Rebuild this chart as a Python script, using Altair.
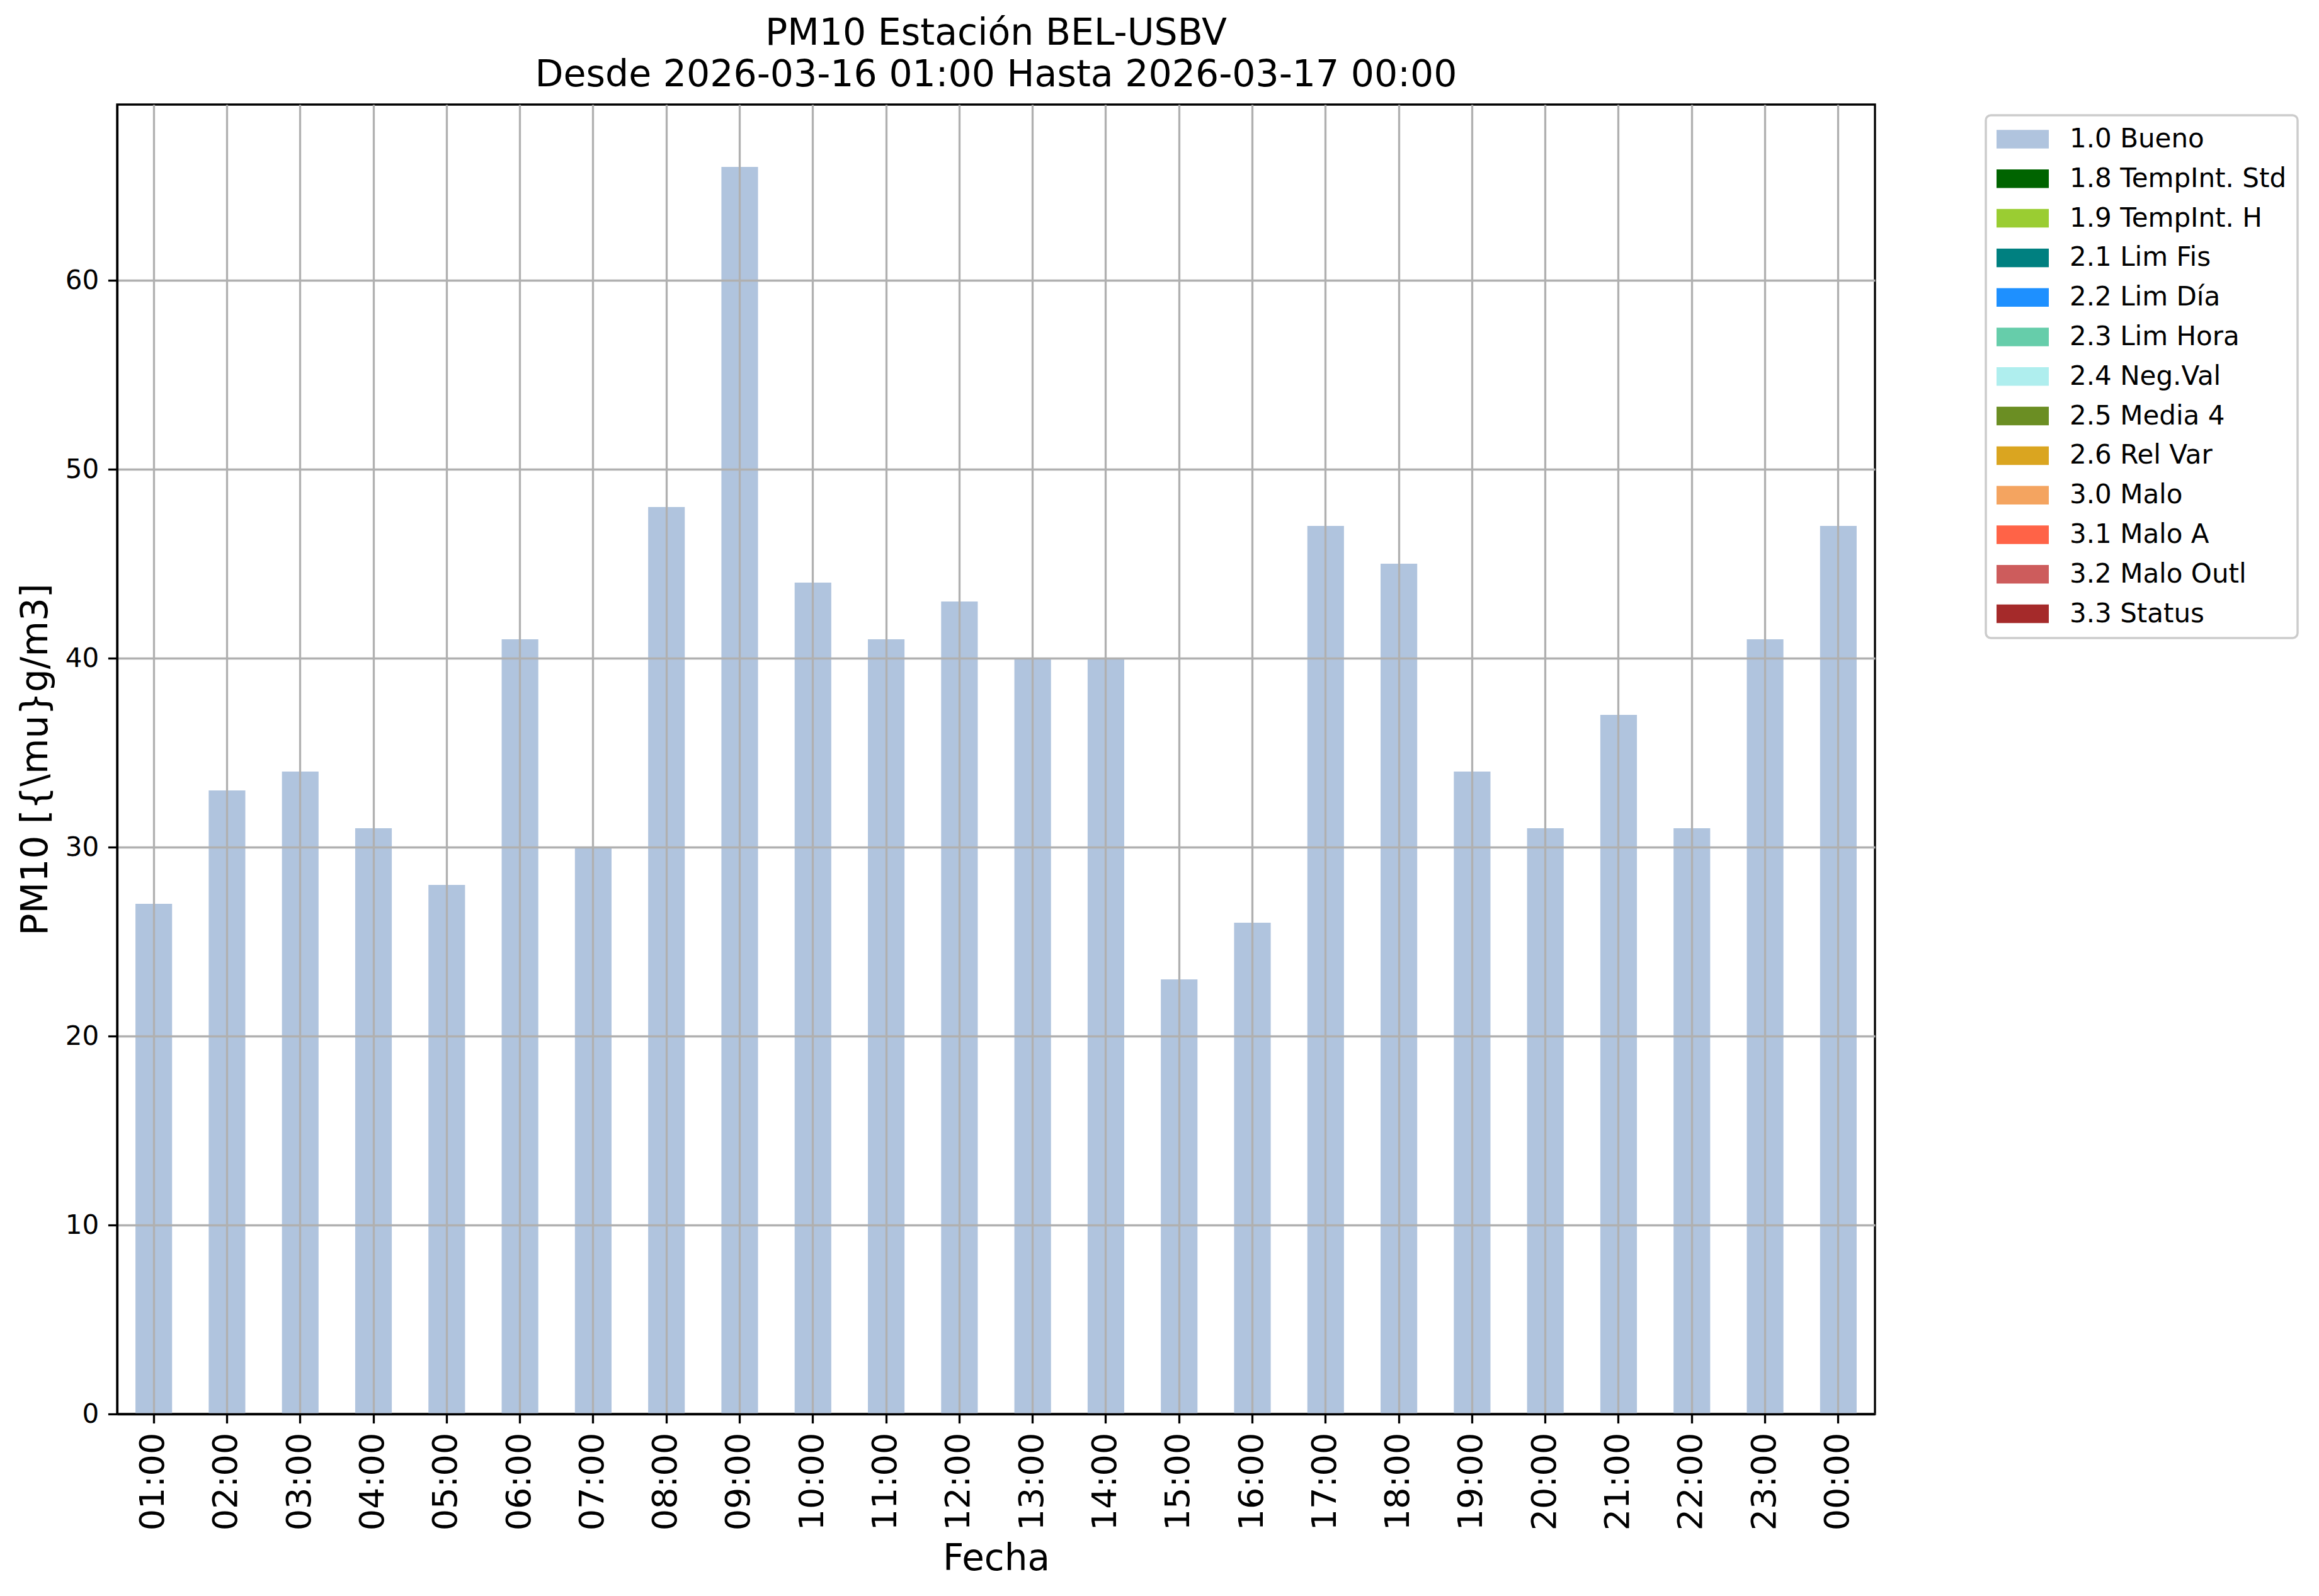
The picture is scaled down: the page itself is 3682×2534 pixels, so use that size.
import altair as alt
import pandas as pd

# ---- data ----
hours = ["01:00", "02:00", "03:00", "04:00", "05:00", "06:00", "07:00", "08:00",
         "09:00", "10:00", "11:00", "12:00", "13:00", "14:00", "15:00", "16:00",
         "17:00", "18:00", "19:00", "20:00", "21:00", "22:00", "23:00", "00:00"]
pm10 = [27, 33, 34, 31, 28, 41, 30, 48, 66, 44, 41, 43,
        40, 40, 23, 26, 47, 45, 34, 31, 37, 31, 41, 47]
flag_of_hour = ["1.0 Bueno"] * 24

flag_labels = ["1.0 Bueno", "1.8 TempInt. Std", "1.9 TempInt. H", "2.1 Lim Fis",
               "2.2 Lim Día", "2.3 Lim Hora", "2.4 Neg.Val", "2.5 Media 4",
               "2.6 Rel Var", "3.0 Malo", "3.1 Malo A", "3.2 Malo Outl", "3.3 Status"]
flag_colors = ["#B0C4DE", "#006400", "#9ACD32", "#008080", "#1E90FF", "#66CDAA",
               "#AFEEEE", "#6B8E23", "#DAA520", "#F4A460", "#FF6347", "#CD5C5C",
               "#A52A2A"]
y_ticks = [0, 10, 20, 30, 40, 50, 60]
y_max = 69.3

title_lines = ["PM10 Estación BEL-USBV", "Desde 2026-03-16 01:00 Hasta 2026-03-17 00:00"]

df = pd.DataFrame({"Hora": hours, "PM10": pm10, "Flag": flag_of_hour})

W, H = 2791, 2079
LW = 3.3
TICK = 14.6

chart = alt.Chart(df).mark_bar().encode(
    x=alt.X("Hora:N", sort=hours,
            scale=alt.Scale(paddingInner=0.5, paddingOuter=0.25),
            axis=alt.Axis(title="Fecha", labelAngle=270, labelFontSize=54,
                          labelPadding=TICK, tickSize=TICK, tickWidth=LW,
                          tickColor="black", grid=True, gridColor="#b0b0b0",
                          gridWidth=LW, bandPosition=0.5, domain=True,
                          domainColor="black", domainWidth=LW,
                          titleFontSize=58, titleFontWeight="normal",
                          titleX=W / 2, titleY=247, titleAlign="center",
                          titleBaseline="alphabetic", labelOverlap=False,
                          labelColor="black", titleColor="black", zindex=1)),
    y=alt.Y("PM10:Q",
            scale=alt.Scale(domain=[0, y_max], nice=False, zero=True),
            axis=alt.Axis(title="PM10 [{\\mu}g/m3]", values=y_ticks,
                          labelFontSize=42, labelPadding=TICK, tickSize=TICK,
                          tickWidth=LW, tickColor="black", grid=True,
                          gridColor="#b0b0b0", gridWidth=LW, domain=True,
                          domainColor="black", domainWidth=LW,
                          titleFontSize=58, titleFontWeight="normal",
                          titleAngle=270, titleX=-129, titleY=H / 2,
                          titleAlign="center", titleBaseline="middle",
                          labelColor="black", titleColor="black", zindex=1)),
    color=alt.Color("Flag:N",
                    scale=alt.Scale(domain=flag_labels, range=flag_colors),
                    legend=alt.Legend(title=None, orient="none", legendX=2967,
                                      legendY=17, direction="vertical",
                                      symbolType="M-1,-0.355L1,-0.355L1,0.355L-1,0.355Z",
                                      symbolSize=6889, symbolStrokeWidth=0,
                                      symbolOpacity=1, labelFontSize=42,
                                      labelOffset=33, rowPadding=20.8,
                                      clipHeight=42,
                                      padding=17, strokeColor="#cccccc",
                                      fillColor="white", cornerRadius=8,
                                      labelColor="black", labelLimit=1000)),
).properties(
    width=W, height=H,
    title=alt.TitleParams(text=title_lines, fontSize=58.5, fontWeight="normal",
                          anchor="middle", frame="group", offset=13, dy=54,
                          lineHeight=66, baseline="bottom", color="black"),
    autosize=alt.AutoSizeParams(type="none"),
    padding={"left": 178, "top": 158, "right": 697, "bottom": 281},
).configure(font="DejaVu Sans").configure_view(
    stroke="black", strokeWidth=LW
).configure_legend(strokeWidth=3.5)

chart.save("out.html", embed_options={"renderer": "svg", "actions": False})
